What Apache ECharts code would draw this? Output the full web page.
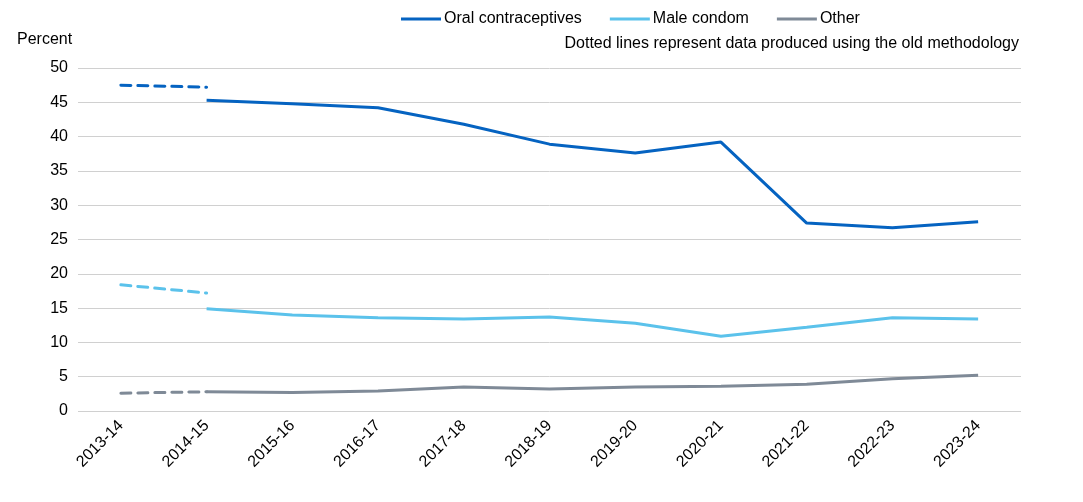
<!DOCTYPE html>
<html><head><meta charset="utf-8">
<script src="https://cdn.jsdelivr.net/npm/echarts@6/dist/echarts.min.js"></script>
<style>html,body{margin:0;padding:0;background:#fff}#c{width:1083px;height:502px}</style>
</head><body><div id="c"></div>
<script>
const categories = ['2013-14','2014-15','2015-16','2016-17','2017-18','2018-19','2019-20','2020-21','2021-22','2022-23','2023-24'];
const oral = [null,45.3,44.8,44.2,41.8,38.9,37.6,39.2,27.4,26.7,27.6];
const condom = [null,14.9,14.0,13.6,13.4,13.7,12.8,10.9,12.2,13.6,13.4];
const other = [null,2.8,2.7,2.9,3.5,3.2,3.5,3.6,3.9,4.7,5.2];
const oralOld = [47.5,47.2];
const condomOld = [18.4,17.2];
const otherOld = [2.6,2.8];
const yTicks = [0,5,10,15,20,25,30,35,40,45,50];
const colors = {oral:'#0563C1', condom:'#5BC2EB', other:'#7F8A97'};

const chart = echarts.init(document.getElementById('c'));
const font = 'Liberation Sans, Arial, sans-serif';
const fs = 16;
function solid(name, data, color){
  return {name, type:'line', data, symbol:'none', showSymbol:false, connectNulls:false,
    lineStyle:{color, width:3}, itemStyle:{color}, z:3};
}
function dashed(name, data, color){
  return {name, type:'line', data, symbol:'none', showSymbol:false,
    lineStyle:{color, width:3, type:[10,7], cap:'round'}, itemStyle:{color}, z:2};
}
chart.setOption({
  animation:false,
  textStyle:{fontFamily:font},
  grid:{left:78, right:62, top:68, bottom:91, containLabel:false},
  legend:{data:['Oral contraceptives','Male condom','Other'], top:6, left:396,
    icon:'path://M0,0 L40,0 L40,3 L0,3 Z', itemWidth:40, itemHeight:3, itemGap:28,
    textStyle:{fontFamily:font, fontSize:fs, color:'#000', padding:[0,0,0,-2]}},
  graphic:[
    {type:'text', left:17, top:32, style:{text:'Percent', fontFamily:font, fontSize:fs, fill:'#000'}},
    {type:'text', right:64, top:36, style:{text:'Dotted lines represent data produced using the old methodology', fontFamily:font, fontSize:fs, fill:'#000'}}
  ],
  xAxis:{type:'category', data:categories, boundaryGap:true,
    axisLine:{show:false}, axisTick:{show:false},
    axisLabel:{rotate:45, fontFamily:font, fontSize:fs, color:'#000', margin:12, interval:0}},
  yAxis:{type:'value', min:yTicks[0], max:yTicks[yTicks.length-1], interval:5,
    axisLine:{show:false}, axisTick:{show:false},
    axisLabel:{fontFamily:font, fontSize:fs, color:'#000', margin:10},
    splitLine:{lineStyle:{color:'#d0d0d0', width:1}}},
  series:[
    solid('Oral contraceptives', oral, colors.oral),
    solid('Male condom', condom, colors.condom),
    solid('Other', other, colors.other),
    dashed('Oral contraceptives (old)', oralOld, colors.oral),
    dashed('Male condom (old)', condomOld, colors.condom),
    dashed('Other (old)', otherOld, colors.other)
  ]
});
</script></body></html>
